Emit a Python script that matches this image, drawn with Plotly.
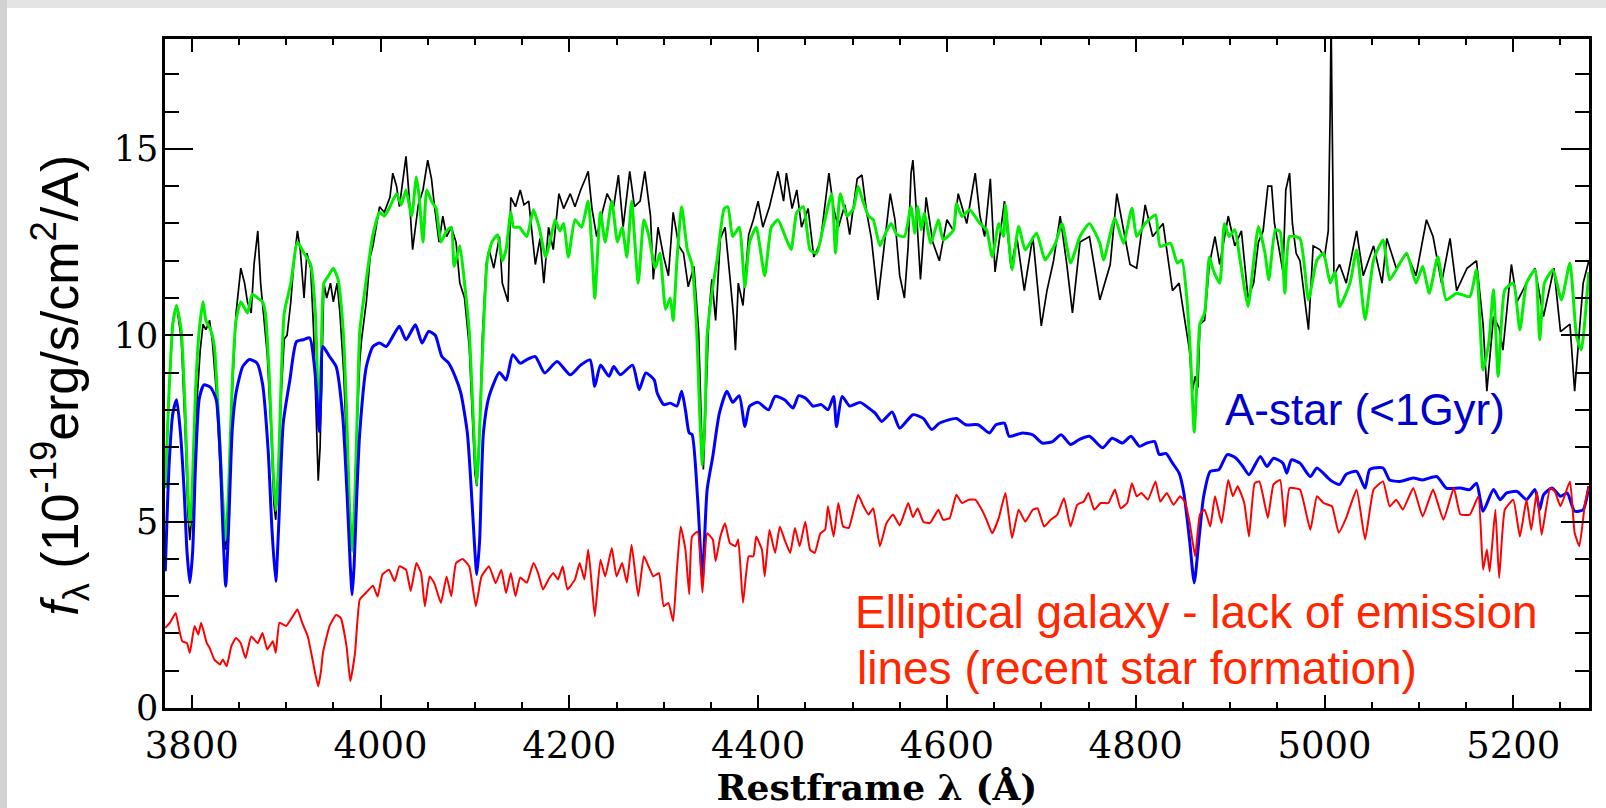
import plotly.graph_objects as go

# ---------------- data ----------------
black_wl = [3772, 3775, 3780, 3784, 3789, 3793, 3796, 3798, 3801, 3805, 3809, 3812, 3815, 3819, 3822, 3826,
            3830, 3834, 3836, 3839, 3843, 3847, 3852, 3856, 3859, 3863, 3866, 3870, 3873, 3877, 3880, 3884,
            3887, 3889, 3892, 3895, 3898, 3901, 3905, 3908, 3912, 3915, 3919, 3922, 3926, 3929, 3932, 3934,
            3936, 3938, 3940, 3943, 3947, 3950, 3954, 3957, 3961, 3965, 3968, 3970, 3972, 3975, 3978, 3980,
            3985, 3989, 3992, 3996, 3999, 4004, 4010, 4013, 4017, 4020, 4024, 4027, 4031, 4034, 4040, 4045,
            4050, 4054, 4057, 4062, 4066, 4070, 4075, 4080, 4084, 4089, 4094, 4097, 4100, 4102, 4105, 4108,
            4112, 4115, 4120, 4126, 4129, 4135, 4138, 4143, 4148, 4152, 4157, 4164, 4169, 4173, 4178, 4183,
            4189, 4194, 4201, 4206, 4212, 4217, 4220, 4224, 4229, 4234, 4240, 4247, 4252, 4257, 4264, 4269,
            4275, 4280, 4286, 4289, 4294, 4300, 4305, 4310, 4316, 4321, 4326, 4332, 4337, 4340, 4342, 4345,
            4348, 4351, 4355, 4360, 4365, 4370, 4374, 4376, 4379, 4384, 4390, 4395, 4400, 4405, 4412, 4421,
            4427, 4430, 4436, 4441, 4446, 4453, 4459, 4466, 4471, 4475, 4480, 4485, 4492, 4497, 4505, 4510,
            4515, 4520, 4527, 4533, 4540, 4545, 4550, 4555, 4559, 4562, 4564, 4568, 4572, 4578, 4585, 4592,
            4600, 4607, 4612, 4621, 4630, 4635, 4640, 4646, 4651, 4656, 4661, 4668, 4674, 4682, 4691, 4700,
            4706, 4713, 4720, 4727, 4733, 4741, 4751, 4762, 4773, 4780, 4787, 4794, 4801, 4810, 4818, 4829,
            4839, 4846, 4852, 4857, 4860, 4863, 4866, 4868, 4873, 4878, 4884, 4889, 4898, 4905, 4912, 4919,
            4925, 4930, 4935, 4940, 4944, 4947, 4952, 4956, 4959, 4963, 4966, 4970, 4974, 4983, 4988, 4995,
            5000, 5004, 5006, 5007, 5008, 5010, 5016, 5023, 5034, 5041, 5052, 5061, 5066, 5076, 5087, 5097,
            5108, 5115, 5124, 5133, 5140, 5151, 5161, 5168, 5172, 5179, 5185, 5189, 5198, 5204, 5214, 5223,
            5232, 5243, 5250, 5260, 5265, 5270, 5274, 5280]
black_flux = [5.9, 8.0, 10.4, 10.8, 9.9, 7.5, 5.2, 4.5, 5.5, 8.0, 9.6, 10.3, 10.15, 10.4, 9.8, 8.5,
              6.5, 4.6, 4.25, 5.5, 8.5, 10.6, 11.8, 11.4, 10.9, 10.6, 11.9, 12.8, 11.4, 10.3, 9.5, 7.5,
              5.5, 5.05, 6.5, 8.5, 9.9, 10.0, 10.9, 11.9, 12.8, 12.3, 11.0, 12.2, 11.8, 10.2, 8.0, 6.1,
              7.0, 9.5, 11.4, 11.0, 11.4, 10.9, 11.4, 10.6, 9.0, 6.5, 4.8, 4.5, 5.0, 7.5, 9.3, 9.9,
              10.9, 12.1, 12.4, 13.0, 13.45, 13.3, 13.7, 14.35, 14.0, 13.45, 14.2, 14.8, 13.5, 12.3, 13.5, 13.9,
              14.7, 14.2, 13.5, 12.5, 13.2, 12.65, 12.9, 12.5, 11.4, 11.0, 9.7, 8.0, 6.3, 5.95, 7.5, 10.0,
              11.9, 12.3, 11.8, 12.65, 11.4, 10.9, 13.7, 13.45, 13.9, 13.5, 13.6, 11.9, 12.6, 11.4, 12.9, 12.3,
              13.8, 13.4, 13.8, 13.45, 13.9, 14.2, 14.4, 13.4, 12.65, 13.2, 13.8, 13.45, 14.3, 12.9, 14.4, 13.45,
              13.6, 14.4, 13.2, 11.5, 12.9, 12.1, 11.6, 13.3, 12.4, 12.2, 11.3, 11.85, 10.1, 7.5, 6.4, 8.5,
              10.6, 11.5, 10.4, 12.6, 12.9, 11.6, 10.5, 9.6, 11.4, 10.8, 12.7, 13.1, 13.6, 12.9, 13.45, 14.4,
              13.6, 14.35, 13.4, 13.9, 12.9, 13.4, 12.1, 12.5, 13.45, 14.35, 13.4, 12.9, 13.5, 12.7, 14.2, 14.3,
              13.3, 12.6, 10.95, 12.2, 13.8, 13.1, 11.6, 11.0, 12.4, 14.35, 14.7, 13.2, 11.5, 13.7, 12.5, 12.0,
              13.1, 12.8, 13.8, 13.0, 14.35, 13.2, 12.65, 14.2, 11.7, 12.65, 13.6, 11.8, 12.65, 11.2, 12.65, 10.25,
              11.2, 12.0, 13.2, 11.9, 10.6, 12.5, 12.65, 10.95, 11.9, 13.8, 12.8, 11.9, 11.8, 13.5, 12.65, 13.0,
              11.2, 11.4, 10.4, 9.6, 8.5, 8.9, 8.6, 10.3, 10.4, 11.9, 12.65, 11.9, 13.2, 12.4, 12.8, 11.0,
              11.4, 12.5, 12.8, 14.0, 14.0, 13.0, 12.3, 11.7, 13.9, 14.35, 13.0, 12.2, 12.0, 10.15, 12.4, 12.3,
              12.1, 12.8, 16.0, 18.5, 16.0, 11.6, 11.9, 11.4, 12.8, 11.6, 12.4, 11.4, 12.6, 11.8, 12.2, 11.6,
              13.1, 12.65, 11.4, 12.6, 11.2, 11.8, 12.0, 10.3, 8.5, 10.5, 10.2, 9.6, 11.9, 10.9, 11.4, 11.8,
              10.5, 11.8, 10.1, 10.3, 8.5, 10.2, 11.4, 12.0]

green_wl = [3772, 3776, 3780, 3784, 3789, 3793, 3796, 3798, 3800, 3804, 3808, 3812, 3815, 3820, 3824, 3828,
            3832, 3836, 3839, 3843, 3847, 3852, 3859, 3864, 3870, 3875, 3878, 3882, 3886, 3889, 3892, 3895,
            3898, 3905, 3912, 3919, 3926, 3931, 3933, 3935, 3937, 3940, 3945, 3950, 3955, 3960, 3964, 3967,
            3970, 3973, 3976, 3978, 3985, 3992, 3999, 4004, 4010, 4017, 4022, 4027, 4033, 4038, 4041, 4045,
            4049, 4054, 4059, 4064, 4070, 4075, 4078, 4084, 4089, 4094, 4097, 4100, 4102, 4104, 4108, 4113,
            4118, 4124, 4129, 4133, 4138, 4141, 4147, 4155, 4162, 4168, 4175, 4180, 4185, 4190, 4194, 4199,
            4206, 4213, 4220, 4224, 4227, 4233, 4238, 4245, 4251, 4256, 4261, 4266, 4273, 4279, 4284, 4291,
            4296, 4302, 4307, 4310, 4314, 4319, 4325, 4330, 4335, 4338, 4341, 4344, 4346, 4352, 4357, 4364,
            4368, 4373, 4380, 4386, 4391, 4398, 4407, 4414, 4421, 4428, 4435, 4441, 4448, 4455, 4462, 4469,
            4478, 4482, 4487, 4494, 4501, 4506, 4511, 4517, 4522, 4529, 4536, 4541, 4547, 4555, 4562, 4566,
            4569, 4573, 4576, 4583, 4591, 4596, 4607, 4610, 4616, 4624, 4635, 4642, 4648, 4655, 4660, 4662,
            4669, 4676, 4683, 4695, 4704, 4715, 4722, 4731, 4741, 4751, 4762, 4766, 4778, 4787, 4796, 4801,
            4810, 4821, 4826, 4837, 4844, 4849, 4854, 4858, 4862, 4865, 4868, 4873, 4878, 4882, 4889, 4894,
            4899, 4905, 4910, 4919, 4924, 4930, 4937, 4941, 4948, 4953, 4958, 4963, 4974, 4983, 4992, 4999,
            5006, 5011, 5016, 5027, 5034, 5043, 5052, 5062, 5069, 5076, 5087, 5097, 5104, 5111, 5120, 5129,
            5140, 5154, 5161, 5168, 5174, 5179, 5184, 5191, 5200, 5207, 5214, 5223, 5228, 5233, 5242, 5251,
            5260, 5267, 5272, 5280]
green_flux = [5.9, 8.5, 10.3, 10.8, 10.1, 8.0, 5.8, 4.9, 5.5, 8.5, 10.15, 10.9, 10.4, 10.15, 9.7, 8.0,
              6.0, 4.5, 5.8, 8.8, 10.4, 10.9, 10.6, 11.1, 11.0, 10.9, 10.6, 9.0, 6.5, 5.3, 6.5, 9.0,
              10.6, 11.4, 12.5, 12.2, 11.9, 10.6, 9.0, 7.8, 9.2, 11.4, 11.6, 11.8, 11.5, 10.3, 8.0, 5.5,
              4.2, 5.8, 8.5, 10.1, 11.5, 12.7, 13.3, 13.2, 13.45, 13.8, 13.5, 13.9, 13.2, 14.25, 13.7, 12.5,
              13.9, 13.6, 13.4, 12.5, 12.8, 12.9, 11.85, 12.4, 11.4, 10.1, 8.5, 6.8, 6.0, 6.8, 9.5, 12.0,
              12.5, 12.7, 12.0, 12.3, 13.3, 12.9, 12.9, 12.65, 13.37, 12.9, 12.1, 12.56, 13.1, 12.8, 13.0, 12.1,
              13.1, 12.9, 13.6, 12.3, 11.0, 13.3, 12.5, 13.6, 12.5, 12.9, 12.1, 13.6, 11.4, 13.1, 12.7, 11.8,
              12.2, 10.7, 11.0, 10.4, 12.0, 13.45, 12.3, 11.9, 10.1, 8.0, 6.5, 8.0, 10.0, 11.3, 12.1, 13.4,
              13.45, 12.65, 12.9, 11.3, 12.5, 12.9, 11.6, 12.9, 13.1, 12.7, 12.3, 13.3, 13.45, 12.3, 12.2, 12.9,
              13.8, 12.2, 13.8, 13.2, 13.4, 14.0, 13.6, 13.2, 13.1, 12.4, 12.8, 13.0, 12.7, 12.65, 13.45, 12.74,
              13.45, 12.83, 13.28, 12.47, 13.1, 12.56, 12.83, 13.54, 13.19, 13.37, 13.0, 12.83, 12.11, 13.0, 12.65, 13.5,
              11.76, 12.92, 12.29, 12.74, 12.02, 12.47, 13.0, 11.94, 12.65, 13.0, 12.47, 12.02, 13.14, 12.47, 13.41, 12.65,
              13.0, 13.23, 12.38, 12.47, 11.94, 12.02, 11.04, 9.5, 7.4, 8.8, 10.3, 10.6, 12.1, 11.76, 11.4, 13.0,
              12.65, 12.83, 12.11, 10.77, 11.76, 12.92, 12.2, 11.49, 12.83, 12.78, 11.13, 12.65, 12.6, 10.95, 12.02, 12.2,
              11.4, 11.7, 10.77, 11.4, 12.29, 10.42, 12.02, 12.56, 11.49, 11.76, 12.2, 11.4, 11.85, 11.13, 12.11, 10.95,
              11.13, 11.04, 11.76, 9.07, 9.79, 11.22, 8.9, 11.22, 11.4, 10.15, 11.4, 11.76, 9.88, 11.4, 11.76, 10.95,
              11.94, 9.97, 9.61, 11.7]

blue_wl = [3772, 3776, 3780, 3784, 3788, 3792, 3795, 3798, 3801, 3804, 3808, 3813, 3820, 3826, 3830, 3833,
           3836, 3839, 3843, 3847, 3854, 3861, 3869, 3875, 3881, 3885, 3889, 3892, 3897, 3904, 3911, 3918,
           3925, 3930, 3933, 3935, 3937, 3939, 3946, 3953, 3960, 3965, 3968, 3970, 3972, 3975, 3978, 3985,
           3992, 3999, 4006, 4013, 4020, 4027, 4037, 4044, 4051, 4058, 4065, 4072, 4079, 4085, 4092, 4097,
           4100, 4102, 4105, 4109, 4115, 4126, 4133, 4140, 4148, 4155, 4164, 4174, 4187, 4201, 4212, 4222,
           4227, 4233, 4242, 4247, 4254, 4267, 4274, 4281, 4290, 4293, 4300, 4307, 4314, 4319, 4323, 4327,
           4330, 4336, 4341, 4346, 4352, 4359, 4367, 4373, 4380, 4386, 4391, 4400, 4411, 4418, 4428, 4437,
           4443, 4451, 4458, 4467, 4474, 4480, 4483, 4489, 4497, 4508, 4517, 4524, 4531, 4542, 4550, 4564,
           4575, 4584, 4592, 4610, 4620, 4633, 4645, 4652, 4661, 4666, 4680, 4691, 4701, 4712, 4721, 4731,
           4740, 4751, 4765, 4775, 4786, 4795, 4804, 4812, 4820, 4825, 4832, 4839, 4846, 4851, 4857, 4862,
           4867, 4872, 4879, 4888, 4897, 4906, 4913, 4920, 4932, 4939, 4946, 4956, 4960, 4965, 4974, 4985,
           4992, 5006, 5016, 5023, 5034, 5043, 5048, 5062, 5069, 5080, 5094, 5104, 5119, 5129, 5144, 5154,
           5161, 5168, 5179, 5186, 5193, 5204, 5214, 5223, 5228, 5232, 5241, 5250, 5257, 5265, 5274, 5280]
blue_flux = [3.67, 6.5, 7.9, 8.27, 7.4, 5.8, 4.2, 3.36, 4.2, 6.5, 8.3, 8.67, 8.6, 8.27, 6.9, 4.8,
             3.27, 4.8, 7.5, 8.46, 9.16, 9.35, 9.26, 8.7, 6.9, 4.8, 3.4, 4.8, 7.65, 8.8, 9.83, 9.88,
             9.93, 9.16, 8.2, 7.42, 8.5, 9.7, 9.43, 9.16, 7.82, 5.5, 3.8, 3.04, 3.8, 5.8, 7.38, 9.16,
             9.7, 9.79, 9.7, 9.97, 10.24, 9.88, 10.28, 9.79, 10.1, 10.0, 9.43, 9.26, 8.9, 8.46, 7.38, 5.5,
             4.2, 3.58, 4.5, 7.38, 8.36, 9.0, 8.8, 9.48, 9.25, 9.35, 9.43, 8.99, 9.3, 8.94, 9.2, 9.34,
             8.63, 9.2, 8.9, 9.16, 8.94, 9.2, 8.54, 8.99, 8.8, 8.46, 8.14, 8.18, 8.1, 8.5, 8.0, 7.38,
             7.34, 5.59, 3.53, 5.86, 6.75, 7.91, 8.5, 8.2, 8.38, 7.55, 8.1, 8.2, 8.0, 8.36, 8.27, 8.05,
             8.38, 8.3, 8.1, 8.14, 8.0, 8.36, 7.55, 8.36, 8.1, 8.2, 8.05, 7.91, 7.69, 7.94, 7.51, 7.87,
             7.77, 7.47, 7.64, 7.77, 7.6, 7.6, 7.38, 7.6, 7.64, 7.29, 7.38, 7.33, 7.11, 7.15, 7.33, 7.07,
             7.2, 7.29, 6.98, 7.24, 7.11, 7.29, 7.02, 7.11, 7.15, 6.8, 6.83, 6.57, 6.3, 5.77, 4.52, 3.36,
             4.52, 5.68, 6.35, 6.39, 6.8, 6.71, 6.5, 6.26, 6.75, 6.48, 6.7, 6.57, 6.3, 6.66, 6.57, 6.21,
             6.44, 6.12, 6.0, 6.27, 6.35, 5.9, 6.4, 6.44, 6.12, 6.08, 6.17, 6.12, 6.21, 5.9, 5.9, 5.86,
             6.03, 5.28, 5.86, 5.59, 5.77, 5.81, 5.59, 5.86, 5.32, 5.72, 5.9, 5.68, 5.77, 5.28, 5.32, 5.95]

red_wl = [3772, 3777, 3783, 3786, 3790, 3795, 3798, 3803, 3807, 3810, 3816, 3819, 3824, 3830, 3833, 3837,
          3842, 3847, 3852, 3857, 3863, 3870, 3875, 3880, 3886, 3889, 3893, 3900, 3907, 3912, 3917, 3923,
          3928, 3931, 3934, 3937, 3939, 3946, 3953, 3958, 3964, 3968, 3973, 3978, 3985, 3992, 3997, 4002,
          4009, 4015, 4020, 4027, 4032, 4038, 4043, 4047, 4052, 4057, 4064, 4070, 4075, 4080, 4087, 4094,
          4101, 4107, 4115, 4122, 4128, 4133, 4138, 4143, 4148, 4155, 4162, 4167, 4172, 4178, 4183, 4188,
          4193, 4198, 4206, 4211, 4216, 4220, 4223, 4227, 4233, 4238, 4245, 4250, 4256, 4261, 4266, 4273,
          4279, 4284, 4289, 4295, 4300, 4305, 4310, 4314, 4318, 4323, 4327, 4330, 4336, 4341, 4346, 4352,
          4355, 4360, 4365, 4370, 4376, 4379, 4384, 4390, 4395, 4398, 4404, 4407, 4412, 4418, 4423, 4428,
          4434, 4439, 4444, 4450, 4455, 4460, 4466, 4471, 4474, 4480, 4485, 4490, 4496, 4501, 4506, 4511,
          4517, 4522, 4529, 4536, 4543, 4550, 4559, 4564, 4569, 4575, 4582, 4591, 4596, 4603, 4610, 4616,
          4623, 4630, 4637, 4642, 4648, 4655, 4662, 4669, 4676, 4683, 4691, 4696, 4703, 4710, 4717, 4724,
          4731, 4738, 4745, 4750, 4756, 4763, 4771, 4778, 4784, 4791, 4796, 4801, 4806, 4813, 4821, 4826,
          4833, 4840, 4847, 4852, 4857, 4863, 4868, 4873, 4879, 4884, 4891, 4898, 4903, 4908, 4915, 4920,
          4926, 4931, 4935, 4940, 4946, 4953, 4958, 4963, 4974, 4985, 4992, 4999, 5008, 5015, 5023, 5034,
          5043, 5052, 5062, 5069, 5076, 5083, 5094, 5104, 5115, 5126, 5137, 5144, 5154, 5163, 5168, 5172,
          5175, 5181, 5185, 5191, 5200, 5207, 5214, 5219, 5225, 5230, 5239, 5244, 5250, 5260, 5265, 5270,
          5276, 5280]
red_flux = [2.15, 2.29, 2.55, 2.2, 1.79, 1.74, 1.48, 2.2, 1.97, 2.29, 1.74, 1.61, 1.3, 1.17, 1.3, 1.12,
            1.66, 1.88, 1.74, 1.34, 1.92, 1.74, 2.01, 1.57, 1.79, 1.48, 2.29, 2.2, 2.46, 2.64, 2.29, 1.92,
            1.3, 0.9, 0.58, 1.0, 1.48, 2.2, 2.5, 2.41, 1.66, 0.72, 1.48, 2.91, 3.1, 3.28, 2.99, 3.58,
            3.71, 3.4, 3.8, 3.71, 3.14, 3.89, 3.62, 2.73, 3.53, 3.35, 2.82, 3.53, 3.0, 3.89, 4.0, 3.8,
            2.73, 3.53, 3.8, 3.35, 3.71, 3.08, 3.62, 3.0, 3.5, 3.36, 3.89, 3.62, 3.18, 3.45, 3.62, 3.45,
            3.8, 3.18, 3.45, 3.89, 3.45, 4.25, 3.53, 2.46, 3.98, 3.53, 4.29, 3.53, 3.89, 3.36, 4.38, 3.0,
            4.07, 3.8, 3.53, 3.62, 2.73, 2.82, 2.33, 3.71, 4.87, 4.25, 3.05, 4.6, 4.73, 3.1, 4.69, 4.52,
            3.94, 4.6, 4.96, 4.43, 4.34, 4.52, 2.82, 4.07, 4.07, 4.6, 4.25, 3.53, 4.78, 4.16, 4.87, 4.52,
            4.16, 4.83, 4.34, 5.0, 4.25, 4.16, 4.69, 4.78, 5.41, 4.6, 5.5, 4.87, 4.83, 5.28, 5.72, 5.45,
            5.19, 5.36, 4.34, 4.96, 5.19, 4.9, 5.5, 5.12, 5.36, 5.0, 4.96, 5.32, 5.05, 5.1, 5.72, 5.5,
            5.59, 5.59, 5.32, 5.05, 4.69, 5.1, 5.77, 4.56, 5.32, 5.0, 5.32, 5.36, 4.87, 5.05, 5.19, 5.63,
            4.87, 5.45, 5.54, 5.77, 5.32, 5.5, 5.5, 5.86, 5.36, 5.5, 6.03, 5.68, 5.77, 5.59, 6.08, 5.54,
            5.77, 5.45, 5.68, 5.54, 5.0, 4.07, 5.19, 5.32, 4.87, 5.68, 4.96, 6.12, 5.68, 5.95, 5.5, 4.6,
            6.03, 6.08, 5.68, 5.1, 6.0, 6.12, 4.87, 5.9, 5.86, 4.78, 5.68, 5.5, 5.41, 4.7, 5.1, 5.86,
            4.52, 5.86, 6.08, 5.41, 5.59, 5.32, 5.9, 5.14, 5.86, 5.05, 5.9, 5.19, 5.19, 5.68, 3.71, 4.25,
            3.66, 5.32, 3.49, 5.32, 5.59, 4.6, 5.59, 4.78, 5.81, 4.65, 5.9, 5.81, 5.41, 6.08, 4.7, 4.34,
            5.5, 5.95]

x_range = [3771.7, 5280.2]
y_range = [0, 17.95]
x_ticks = [3800, 4000, 4200, 4400, 4600, 4800, 5000, 5200]
y_ticks = [0, 5, 10, 15]

x_title = "Restframe λ (Å)"
y_title = "<i>f</i><sub>λ</sub> (10<sup>-19</sup>erg/s/cm<sup>2</sup>/A)"
astar_label = "A-star (<1Gyr)"
ell_label_1 = "Elliptical galaxy - lack of emission"
ell_label_2 = "lines (recent star formation)"

# ---------------- figure ----------------
fig = go.Figure()
fig.add_trace(go.Scatter(x=black_wl, y=black_flux, mode="lines",
                         line=dict(color="#000000", width=1.7), showlegend=False))
fig.add_trace(go.Scatter(x=green_wl, y=green_flux, mode="lines",
                         line=dict(color="#00EE00", width=3, shape="spline", smoothing=0.5),
                         showlegend=False))
fig.add_trace(go.Scatter(x=blue_wl, y=blue_flux, mode="lines",
                         line=dict(color="#0000FF", width=3, shape="spline", smoothing=0.6),
                         showlegend=False))
fig.add_trace(go.Scatter(x=red_wl, y=red_flux, mode="lines",
                         line=dict(color="#FF0000", width=2, shape="spline", smoothing=0.4),
                         showlegend=False))

tick_font_x = dict(family="DejaVu Serif", size=37, color="#000000")
tick_font_y = dict(family="DejaVu Serif", size=35, color="#000000")

fig.update_xaxes(
    range=x_range, tickvals=x_ticks, ticktext=[str(v) for v in x_ticks],
    ticks="inside", ticklen=13, tickwidth=2, tickcolor="#000000",
    minor=dict(dtick=50, tick0=3800, ticks="inside", ticklen=6, tickwidth=2, tickcolor="#000000"),
    showline=True, linecolor="#000000", linewidth=2.5, mirror="ticks",
    showgrid=False, zeroline=False, tickfont=tick_font_x, ticklabelstandoff=3,
    title=dict(text=x_title, font=dict(family="DejaVu Serif", size=36, color="#000000", weight="bold"),
               standoff=4),
    automargin=False,
)
fig.update_yaxes(
    range=y_range, tickvals=y_ticks, ticktext=[str(v) for v in y_ticks],
    ticks="inside", ticklen=28, tickwidth=2, tickcolor="#000000",
    minor=dict(dtick=1, tick0=0, ticks="inside", ticklen=14, tickwidth=2, tickcolor="#000000"),
    showline=True, linecolor="#000000", linewidth=2.5, mirror="ticks",
    showgrid=False, zeroline=False, tickfont=tick_font_y, ticklabelstandoff=-3,
    automargin=False,
)

# y-axis title, placed at the reference position
fig.add_annotation(x=(60 - 165) / 1424, y=(708.5 - 386) / 669.5, xref="paper", yref="paper",
                   text=y_title, textangle=-90, showarrow=False, xanchor="center", yanchor="middle",
                   font=dict(family="Liberation Sans", size=52, color="#000000"))

fig.add_annotation(x=4892, y=8.0, xref="x", yref="y", text=astar_label, showarrow=False,
                   xanchor="left", yanchor="middle",
                   font=dict(family="Liberation Sans", size=44, color="#0000CC"))
fig.add_annotation(x=4500, y=2.57, xref="x", yref="y", text=ell_label_1, showarrow=False,
                   xanchor="left", yanchor="middle",
                   font=dict(family="Liberation Sans", size=46, color="#FF2600"))
fig.add_annotation(x=4503, y=1.08, xref="x", yref="y", text=ell_label_2, showarrow=False,
                   xanchor="left", yanchor="middle",
                   font=dict(family="Liberation Sans", size=46, color="#FF2600"))

# light grey page border seen at top and left edges of the reference
fig.add_shape(type="rect", xref="paper", yref="paper", x0=-0.2, x1=1.05, y0=1.0463, y1=1.07,
              line=dict(width=0), fillcolor="#E4E4E4", layer="below")
fig.add_shape(type="rect", xref="paper", yref="paper", x0=-0.2, x1=(7 - 165) / 1424, y0=-0.2, y1=1.07,
              line=dict(width=0), fillcolor="#D2D2D2", layer="below")

fig.update_layout(
    width=1606, height=808,
    margin=dict(l=165, r=17, t=39, b=100),
    paper_bgcolor="#FFFFFF", plot_bgcolor="#FFFFFF",
    showlegend=False,
)

fig.write_html("out.html")
